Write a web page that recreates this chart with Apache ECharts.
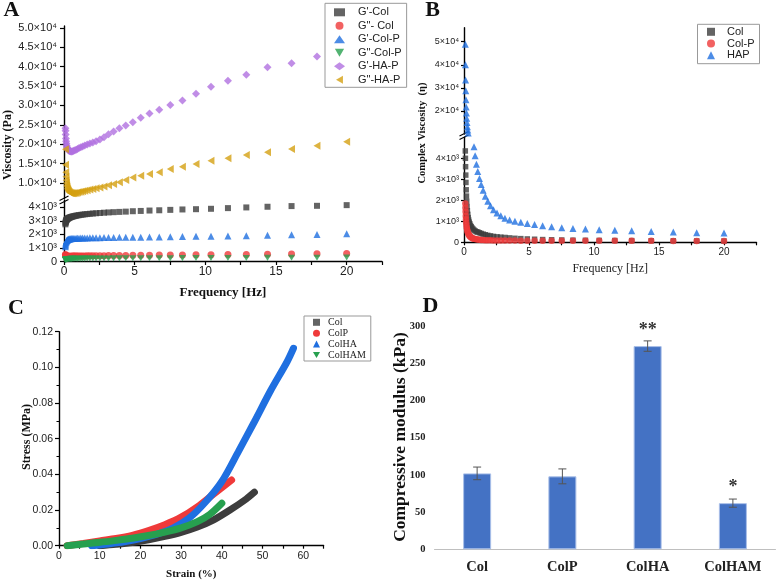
<!DOCTYPE html>
<html><head><meta charset="utf-8">
<script src="https://cdn.jsdelivr.net/npm/echarts@6/dist/echarts.min.js"></script>
<style>html,body{margin:0;padding:0;background:#fff}#c{width:777px;height:581px}</style>
</head><body><div id="c"></div>
<script>
// ---------- shared frequency sweep (Hz) ----------
const frequencyHz = [0.1, 0.109, 0.121, 0.135, 0.15, 0.168, 0.187, 0.208, 0.232, 0.259, 0.289, 0.322, 0.359, 0.4, 0.446, 0.498, 0.555, 0.618, 0.689, 0.768, 0.857, 0.955, 1.06, 1.19, 1.32, 1.47, 1.64, 1.83, 2.04, 2.27, 2.54, 2.83, 3.15, 3.51, 3.92, 4.37, 4.87, 5.43, 6.05, 6.74, 7.52, 8.38, 9.34, 10.4, 11.6, 12.9, 14.4, 16.1, 17.9, 20];

// ---------- Panel A : moduli (Pa) ----------
const gPrimeCol = [2750, 2850, 2920, 2980, 3020, 3060, 3090, 3120, 3150, 3170, 3190, 3210, 3230, 3250, 3270, 3290, 3310, 3330, 3350, 3370, 3390, 3410, 3430, 3450, 3470, 3490, 3510, 3530, 3550, 3570, 3590, 3610, 3630, 3650, 3670, 3690, 3720, 3740, 3770, 3790, 3820, 3850, 3870, 3900, 3950, 4000, 4050, 4100, 4120, 4170];
const gDoublePrimeCol = [520, 480, 450, 430, 415, 405, 400, 395, 392, 390, 390, 390, 391, 392, 393, 395, 397, 399, 401, 403, 405, 407, 409, 411, 413, 415, 418, 421, 424, 427, 430, 434, 438, 442, 446, 450, 455, 460, 466, 472, 479, 487, 496, 505, 515, 526, 538, 552, 568, 585];
const gPrimeColP = [1100, 1200, 1300, 1380, 1440, 1490, 1530, 1560, 1590, 1610, 1630, 1645, 1660, 1670, 1680, 1690, 1695, 1700, 1705, 1710, 1715, 1720, 1725, 1730, 1735, 1740, 1745, 1750, 1755, 1760, 1765, 1770, 1775, 1780, 1785, 1790, 1795, 1800, 1810, 1820, 1830, 1845, 1860, 1875, 1890, 1910, 1940, 1970, 2000, 2050];
const gDoublePrimeColP = [100, 120, 135, 145, 155, 162, 168, 173, 177, 180, 183, 186, 188, 190, 192, 194, 196, 198, 200, 202, 204, 206, 208, 210, 212, 214, 216, 218, 220, 222, 224, 226, 228, 230, 232, 234, 236, 238, 240, 243, 246, 249, 252, 256, 260, 265, 270, 276, 283, 290];
const gPrimeHAP = [24100, 23500, 22500, 21500, 20800, 20200, 19700, 19300, 19000, 18800, 18600, 18450, 18350, 18250, 18200, 18150, 18150, 18200, 18300, 18450, 18600, 18800, 19000, 19200, 19400, 19650, 19900, 20200, 20450, 20800, 21200, 21800, 22550, 23300, 24100, 24800, 25700, 26800, 27900, 28900, 30100, 31300, 33000, 34850, 36400, 37900, 39850, 40900, 42600, 44300];
const gDoublePrimeHAP = [18700, 14700, 12800, 11600, 10700, 10000, 9400, 9000, 8600, 8300, 8050, 7850, 7700, 7550, 7450, 7400, 7350, 7350, 7350, 7400, 7450, 7550, 7650, 7750, 7850, 8000, 8150, 8300, 8450, 8650, 8850, 9100, 9400, 9750, 10200, 10800, 11400, 11900, 12300, 12800, 13600, 14200, 14900, 15750, 16400, 17200, 17900, 18800, 19600, 20650];
const aNames = ["G'-Col", 'G"- Col', "G'-Col-P", 'G"-Col-P', "G'-HA-P", 'G"-HA-P'];

// ---------- Panel B : complex viscosity ----------
const etaCol = [4350, 4000, 3600, 3200, 2850, 2500, 2200, 1950, 1700, 1500, 1330, 1180, 1060, 960, 880, 800, 740, 680, 630, 580, 540, 500, 490, 455, 420, 390, 360, 330, 305, 280, 260, 245, 230, 210, 190, 175, 160, 145, 130, 120, 110, 100, 95, 90, 85, 80, 75, 70, 65, 60];
const etaColP = [1850, 1650, 1450, 1250, 1100, 950, 830, 720, 630, 550, 480, 420, 370, 330, 290, 260, 230, 205, 185, 170, 155, 140, 130, 120, 112, 105, 100, 95, 92, 90, 88, 86, 84, 82, 80, 79, 78, 77, 76, 75, 74, 73, 72, 71, 70, 69, 68, 67, 66, 65];
const etaHAP = [48900, 40000, 33400, 28800, 24900, 21700, 19100, 16900, 15000, 13200, 11800, 10500, 9400, 8400, 7500, 6700, 6000, 5600, 5200, 4550, 4120, 3720, 3370, 3040, 2750, 2480, 2190, 1950, 1745, 1550, 1390, 1265, 1150, 1060, 1000, 950, 900, 850, 790, 740, 695, 660, 630, 600, 570, 550, 520, 490, 460, 440];
const bNames = ['Col', 'Col-P', 'HAP'];

// ---------- Panel C : stress-strain ----------
const strainCol = [10, 14, 18, 22, 26, 30, 34, 38, 42, 46, 48];
const stressCol = [0, 0.0008, 0.0018, 0.0033, 0.0052, 0.0075, 0.0105, 0.0145, 0.0200, 0.0262, 0.0300];
const strainColP = [2, 6, 10, 14, 18, 22, 26, 30, 34, 38, 42.4];
const stressColP = [0, 0.0013, 0.0027, 0.0040, 0.0058, 0.0085, 0.0118, 0.0160, 0.0218, 0.0290, 0.0368];
const strainColHA = [8, 12, 16, 20, 24, 28, 32, 36, 40, 44, 48, 52, 56, 57.6];
const stressColHA = [0, 0.0010, 0.0022, 0.0040, 0.0064, 0.0098, 0.0155, 0.0245, 0.0360, 0.0525, 0.0695, 0.0870, 0.1030, 0.1107];
const strainColHAM = [2, 6, 10, 14, 18, 22, 26, 30, 34, 37, 40];
const stressColHAM = [0, 0.0010, 0.0019, 0.0030, 0.0042, 0.0057, 0.0076, 0.0100, 0.0135, 0.0175, 0.0238];
const cNames = ['Col', 'ColP', 'ColHA', 'ColHAM'];

// ---------- Panel D : compressive modulus ----------
const dCategories = ['Col', 'ColP', 'ColHA', 'ColHAM'];
const dModulus = [102, 98, 273, 62];
const dError = [8.5, 10, 7, 5.5];
const dStars = ['', '', '**', '*'];

// ---------- tick values ----------
const aUpperTicks = [10000, 15000, 20000, 25000, 30000, 35000, 40000, 45000, 50000];
const aLowerTicks = [0, 1000, 2000, 3000, 4000];
const bUpperTicks = [20000, 30000, 40000, 50000];
const bLowerTicks = [0, 1000, 2000, 3000, 4000];

const SANS = 'Liberation Sans';
const SERIF = 'Liberation Serif';
const DOWN_TRI = 'path://M0,0L10,0L5,8.66Z';
const LEFT_TRI = 'path://M8.66,0L8.66,10L0,5Z';

function pairs(xs, ys) { return xs.map((x, i) => [x, ys[i]]); }

const aStyle = [
  { name: aNames[0], data: gPrimeCol, symbol: 'rect', size: 6, color: '#3d3d3d' },
  { name: aNames[1], data: gDoublePrimeCol, symbol: 'circle', size: 7, color: '#ef3a3a' },
  { name: aNames[2], data: gPrimeColP, symbol: 'triangle', size: 7, color: '#1f6fe0' },
  { name: aNames[3], data: gDoublePrimeColP, symbol: DOWN_TRI, size: 7, color: '#27a04f' },
  { name: aNames[4], data: gPrimeHAP, symbol: 'diamond', size: 8, color: '#b070e0' },
  { name: aNames[5], data: gDoublePrimeHAP, symbol: LEFT_TRI, size: 8, color: '#d4a012' }
];
const bStyle = [
  { name: bNames[0], data: etaCol, symbol: 'rect', size: 5.5, color: '#3d3d3d' },
  { name: bNames[1], data: etaColP, symbol: 'circle', size: 6.5, color: '#ef3a3a' },
  { name: bNames[2], data: etaHAP, symbol: 'triangle', size: 7, color: '#1f6fe0' }
];
const cStyle = [
  { name: cNames[0], xs: strainCol, ys: stressCol, color: '#3d3d3d', icon: 'rect' },
  { name: cNames[1], xs: strainColP, ys: stressColP, color: '#ef3a3a', icon: 'circle' },
  { name: cNames[2], xs: strainColHA, ys: stressColHA, color: '#1f6fe0', icon: 'triangle' },
  { name: cNames[3], xs: strainColHAM, ys: stressColHAM, color: '#27a04f', icon: DOWN_TRI }
];

const series = [];
// Panel A : every series drawn on both halves of the broken axis
aStyle.forEach(s => {
  [0, 1].forEach(g => series.push({
    type: 'scatter', name: s.name, xAxisIndex: g, yAxisIndex: g, clip: true,
    symbol: s.symbol, symbolSize: s.size, symbolKeepAspect: true, itemStyle: { color: s.color },
    data: pairs(frequencyHz, s.data), silent: true
  }));
});
bStyle.forEach(s => {
  [2, 3].forEach(g => series.push({
    type: 'scatter', name: s.name, xAxisIndex: g, yAxisIndex: g, clip: true,
    symbol: s.symbol, symbolSize: s.size, symbolKeepAspect: true, itemStyle: { color: s.color },
    data: pairs(frequencyHz, s.data), silent: true
  }));
});
cStyle.forEach(s => series.push({
  type: 'line', name: s.name, xAxisIndex: 4, yAxisIndex: 4, smooth: 0.3,
  showSymbol: false, symbol: s.icon, symbolKeepAspect: true, itemStyle: { color: s.color },
  lineStyle: { color: s.color, width: 7, cap: 'round' },
  data: pairs(s.xs, s.ys), silent: true
}));
series.push({
  type: 'bar', name: 'modulus', xAxisIndex: 5, yAxisIndex: 5, barWidth: 28,
  data: dModulus,
  itemStyle: { color: '#4472c4', borderColor: '#a9bfe8', borderWidth: 1 },
  label: {
    show: true, position: 'top', distance: 7,
    formatter: p => dStars[p.dataIndex],
    fontFamily: SERIF, fontWeight: 'bold', fontSize: 18, color: '#333'
  },
  silent: true
});
series.push({
  type: 'custom', name: 'err', xAxisIndex: 5, yAxisIndex: 5,
  data: dCategories.map((c, i) => [i, dModulus[i], dError[i]]),
  encode: { x: 0, y: 1 }, z: 5, silent: true,
  renderItem: function (params, api) {
    const i = api.value(0), v = api.value(1), e = api.value(2);
    const t = api.coord([i, v + e]), b = api.coord([i, v - e]);
    const hw = 4, st = { stroke: '#555', lineWidth: 1 };
    return { type: 'group', children: [
      { type: 'line', shape: { x1: t[0], y1: t[1], x2: b[0], y2: b[1] }, style: st },
      { type: 'line', shape: { x1: t[0] - hw, y1: t[1], x2: t[0] + hw, y2: t[1] }, style: st },
      { type: 'line', shape: { x1: b[0] - hw, y1: b[1], x2: b[0] + hw, y2: b[1] }, style: st }
    ] };
  }
});

const axLine = { show: true, lineStyle: { color: '#000', width: 1.4 } };
const tick = (len) => ({ show: true, length: len, lineStyle: { color: '#000', width: 1.2 } });
const noSplit = { show: false };

function gridOf(left, top, width, height) {
  return { left, top, width, height, containLabel: false, outerBoundsMode: 'none' };
}

// legend entries: explicit icon per item so the symbols keep their shape
function legendItems(styles) {
  return styles.map(s => ({ name: s.name, icon: s.symbol || s.icon }));
}

const option = {
  animation: false,
  backgroundColor: '#fff',
  grid: [
    gridOf(64, 26, 318, 172.5),     // A upper
    gridOf(64, 200, 318, 61.5),     // A lower
    gridOf(464, 27.8, 292.5, 106.3),// B upper
    gridOf(464, 137.3, 292.5, 105), // B lower
    gridOf(59, 331.7, 264.6, 214),  // C
    gridOf(434.5, 326, 341, 223.3)  // D
  ],
  xAxis: [
    { gridIndex: 0, type: 'value', min: 0, max: 22.5, show: false },
    { gridIndex: 1, type: 'value', min: 0, max: 22.5, interval: 2.5,
      axisLine: axLine, axisTick: tick(3.5), splitLine: noSplit,
      axisLabel: { formatter: v => (v % 5 === 0 ? String(v) : ''), fontFamily: SANS, fontSize: 12, color: '#222', margin: 4 },
      name: 'Frequency [Hz]', nameLocation: 'middle', nameGap: 25,
      nameTextStyle: { fontFamily: SERIF, fontWeight: 'bold', fontSize: 13, color: '#111' } },
    { gridIndex: 2, type: 'value', min: 0, max: 22.5, show: false },
    { gridIndex: 3, type: 'value', min: 0, max: 22.5, interval: 2.5,
      axisLine: axLine, axisTick: tick(3), splitLine: noSplit,
      axisLabel: { formatter: v => (v % 5 === 0 ? String(v) : ''), fontFamily: SANS, fontSize: 10, color: '#222', margin: 5 },
      name: 'Frequency [Hz]', nameLocation: 'middle', nameGap: 21,
      nameTextStyle: { fontFamily: SERIF, fontSize: 12, color: '#222' } },
    { gridIndex: 4, type: 'value', min: 0, max: 65, interval: 5,
      axisLine: axLine, axisTick: tick(3), splitLine: noSplit,
      axisLabel: { formatter: v => (v % 10 === 0 ? String(v) : ''), fontFamily: SANS, fontSize: 10.5, color: '#222', margin: 5 },
      name: 'Strain (%)', nameLocation: 'middle', nameGap: 23,
      nameTextStyle: { fontFamily: SERIF, fontWeight: 'bold', fontSize: 11, color: '#111' } },
    { gridIndex: 5, type: 'category', data: dCategories,
      axisLine: { show: true, lineStyle: { color: '#bfbfbf', width: 1 } },
      axisTick: { show: false }, splitLine: noSplit,
      axisLabel: { fontFamily: SERIF, fontWeight: 'bold', fontSize: 14.5, color: '#222', margin: 10 } }
  ],
  yAxis: [
    { gridIndex: 0, type: 'value', min: 6000, max: 50500,
      axisLine: axLine, axisTick: Object.assign(tick(4), { customValues: aUpperTicks }), splitLine: noSplit,
      axisLabel: { customValues: aUpperTicks, formatter: v => (v / 10000).toFixed(1) + '×10⁴', fontFamily: SANS, fontSize: 11, color: '#222', margin: 7 } },
    { gridIndex: 1, type: 'value', min: 0, max: 4550,
      axisLine: axLine, axisTick: Object.assign(tick(4), { customValues: aLowerTicks }), splitLine: noSplit,
      axisLabel: { customValues: aLowerTicks, formatter: v => (v === 0 ? '0' : (v / 1000) + '×10³'), fontFamily: SANS, fontSize: 11, color: '#222', margin: 7 } },
    { gridIndex: 2, type: 'value', min: 10000, max: 56000,
      axisLine: axLine, axisTick: Object.assign(tick(3), { customValues: bUpperTicks }), splitLine: noSplit,
      axisLabel: { customValues: bUpperTicks, formatter: v => (v / 10000) + '×10⁴', fontFamily: SANS, fontSize: 9, color: '#222', margin: 5 } },
    { gridIndex: 3, type: 'value', min: 0, max: 5000,
      axisLine: axLine, axisTick: Object.assign(tick(3), { customValues: bLowerTicks }), splitLine: noSplit,
      axisLabel: { customValues: bLowerTicks, formatter: v => (v === 0 ? '0' : (v / 1000) + '×10³'), fontFamily: SANS, fontSize: 9, color: '#222', margin: 5 } },
    { gridIndex: 4, type: 'value', min: 0, max: 0.12, interval: 0.02,
      axisLine: axLine, axisTick: tick(4), splitLine: noSplit,
      minorTick: { show: true, splitNumber: 2, length: 2.5, lineStyle: { color: '#000', width: 1 } },
      axisLabel: { formatter: v => v.toFixed(2), fontFamily: SANS, fontSize: 10.5, color: '#222', margin: 6 } },
    { gridIndex: 5, type: 'value', min: 0, max: 300, interval: 50,
      axisLine: { show: false }, axisTick: { show: false }, splitLine: noSplit,
      axisLabel: { fontFamily: SERIF, fontWeight: 'bold', fontSize: 10.5, color: '#222', margin: 9 } }
  ],
  legend: [
    { data: legendItems(aStyle), orient: 'vertical', left: 325, top: 3.3, padding: [3.5, 5, 2, 9],
      itemWidth: 11, itemHeight: 8, itemGap: 2.5, selectedMode: false, symbolKeepAspect: true,
      backgroundColor: '#fff', borderColor: '#999', borderWidth: 1, z: 10,
      textStyle: { fontFamily: SANS, fontSize: 11, color: '#222', padding: [0, 0, 0, 8] } },
    { data: legendItems(bStyle), orient: 'vertical', left: 697.5, top: 24.3, padding: [2, 5, 3, 9.5],
      itemWidth: 8, itemHeight: 8, itemGap: 0.7, selectedMode: false, symbolKeepAspect: true,
      backgroundColor: '#fff', borderColor: '#999', borderWidth: 1, z: 10,
      textStyle: { fontFamily: SANS, fontSize: 11, color: '#222', padding: [0, 0, 0, 7] } },
    { data: legendItems(cStyle), orient: 'vertical', left: 304, top: 316, padding: [1.3, 5, 1, 9],
      itemWidth: 7, itemHeight: 7, itemGap: 0.9, selectedMode: false, symbolKeepAspect: true,
      backgroundColor: '#fff', borderColor: '#999', borderWidth: 1, z: 10,
      textStyle: { fontFamily: SERIF, fontSize: 10, color: '#222', padding: [0, 0, 0, 3] } }
  ],
  graphic: [
    { type: 'text', x: 11.5, y: 10.5, style: { text: 'A', font: 'bold 22px "Liberation Serif"', fill: '#111', align: 'center', verticalAlign: 'middle' } },
    { type: 'text', x: 432.5, y: 10, style: { text: 'B', font: 'bold 22px "Liberation Serif"', fill: '#111', align: 'center', verticalAlign: 'middle' } },
    { type: 'text', x: 16, y: 308.5, style: { text: 'C', font: 'bold 22px "Liberation Serif"', fill: '#111', align: 'center', verticalAlign: 'middle' } },
    { type: 'text', x: 430.5, y: 306.5, style: { text: 'D', font: 'bold 22px "Liberation Serif"', fill: '#111', align: 'center', verticalAlign: 'middle' } },
    { type: 'text', x: 8, y: 145, rotation: Math.PI / 2, style: { text: 'Viscosity (Pa)', font: 'bold 12px "Liberation Serif"', fill: '#111', align: 'center', verticalAlign: 'middle' } },
    { type: 'text', x: 422, y: 133, rotation: Math.PI / 2, style: { text: 'Complex Viscosity  (η)', font: 'bold 10.5px "Liberation Serif"', fill: '#111', align: 'center', verticalAlign: 'middle' } },
    { type: 'text', x: 26.7, y: 437, rotation: Math.PI / 2, style: { text: 'Stress (MPa)', font: 'bold 12px "Liberation Serif"', fill: '#111', align: 'center', verticalAlign: 'middle' } },
    { type: 'text', x: 400, y: 437, rotation: Math.PI / 2, style: { text: 'Compressive modulus (kPa)', font: 'bold 17.5px "Liberation Serif"', fill: '#111', align: 'center', verticalAlign: 'middle' } },
    // axis-break marks
    { type: 'line', shape: { x1: 59.5, y1: 200.5, x2: 68.5, y2: 196 }, style: { stroke: '#000', lineWidth: 1.2 } },
    { type: 'line', shape: { x1: 59.5, y1: 204, x2: 68.5, y2: 199.5 }, style: { stroke: '#000', lineWidth: 1.2 } },
    { type: 'line', shape: { x1: 459.5, y1: 136, x2: 468.5, y2: 131.5 }, style: { stroke: '#000', lineWidth: 1.2 } },
    { type: 'line', shape: { x1: 459.5, y1: 139.5, x2: 468.5, y2: 135 }, style: { stroke: '#000', lineWidth: 1.2 } }
  ],
  series: series
};

const chart = echarts.init(document.getElementById('c'), null, { renderer: 'canvas' });
chart.setOption(option);
</script>
</body></html>
